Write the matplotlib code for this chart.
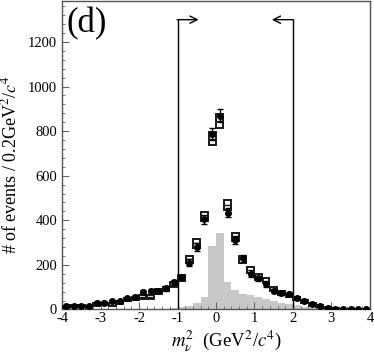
import numpy as np
import matplotlib
matplotlib.use("Agg")
import matplotlib.pyplot as plt
from matplotlib.ticker import MultipleLocator

plt.rcParams['font.family'] = ['Liberation Serif', 'DejaVu Serif']
plt.rcParams['mathtext.fontset'] = 'stix'

# bin centres of the 0.2 GeV^2/c^4 bins
bin_centers = [-3.9, -3.7, -3.5, -3.3, -3.1, -2.9, -2.7, -2.5, -2.3, -2.1,
               -1.9, -1.7, -1.5, -1.3, -1.1, -0.9, -0.7, -0.5, -0.3, -0.1,
               0.1, 0.3, 0.5, 0.7, 0.9, 1.1, 1.3, 1.5, 1.7, 1.9,
               2.1, 2.3, 2.5, 2.7, 2.9, 3.1, 3.3, 3.5, 3.7, 3.9]

# data points (filled circles)
data = [15, 15, 17, 15, 30, 30, 38, 38, 50, 57,
        77, 83, 83, 95, 122, 144, 210, 281, 405, 788,
        870, 435, 311, 229, 157, 140, 113, 84, 72, 69,
        50, 40, 25, 15, 5, 3, 2, 1, 0, 0]
data_err = [4, 4, 4, 4, 6, 6, 6, 6, 7, 8,
            9, 9, 9, 10, 11, 12, 15, 17, 20, 28,
            30, 21, 18, 15, 13, 12, 11, 9, 9, 8,
            7, 6, 5, 4, 2, 2, 1, 1, 0, 0]

# MC expectation (open boxes), value and half-height
mc = [12, 14, 15, 10, 22, 25, 22, 33, 45, 50,
      58, 57, 80, 92, 112, 143, 225, 297, 417, 766,
      845, 468, 326, 226, 177, 144, 129, 93, 72, 62,
      50, 35, 22, 15, 7, 3, 2, 1, 0.5, 0]
mc_err = [5, 5, 5, 5, 6, 6, 6, 7, 8, 8,
          9, 9, 10, 11, 12, 13, 16, 19, 22, 30,
          30, 22, 19, 16, 14, 13, 12, 10, 9, 8,
          7, 6, 5, 4, 3, 2, 1, 1, 1, 0]

# grey histogram (signal component)
sig = [0, 0, 0, 0, 0, 0, 0, 0, 0, 1,
       2, 2, 3, 4, 6, 10, 17, 29, 57, 284,
       345, 124, 87, 70, 63, 55, 45, 38, 30, 25,
       18, 12, 8, 5, 3, 2, 1, 0, 0, 0]

xticks = [-4, -3, -2, -1, 0, 1, 2, 3, 4]
xticklabels = ['-4', '-3', '-2', '-1', '0', '1', '2', '3', '4']
yticks = [0, 200, 400, 600, 800, 1000, 1200]

bin_edges = np.arange(-4, 4.001, 0.2)

fig = plt.figure(figsize=(3.74, 3.58), dpi=100)
ax = fig.add_axes([0.166, 0.1355, 0.823, 0.8625])

ax.hist(bin_centers, bins=bin_edges, weights=sig, histtype='stepfilled',
        color='#c8c8c8', linewidth=0)

x = np.array(bin_centers)
mc = np.array(mc)
mc_err = np.array(mc_err)
w = 0.18
ax.bar(x, 2 * mc_err, width=w, bottom=mc - mc_err, fill=False,
       edgecolor='#1a1a1a', linewidth=1.4, zorder=3)
ax.hlines(mc, x - w / 2, x + w / 2, color='#1a1a1a', linewidth=1.0, zorder=3)

ax.errorbar(x, data, yerr=data_err, fmt='o', color='black', markersize=4,
            capsize=2.5, elinewidth=1, capthick=1, zorder=4)

# signal region cut arrows
ax.plot([-1, -1], [0, 1300], color='black', linewidth=1)
ax.plot([2, 2], [0, 1300], color='black', linewidth=1)
ax.annotate('', xy=(-0.45, 1300), xytext=(-1.01, 1300),
            arrowprops=dict(arrowstyle='->', lw=1, color='black',
                            mutation_scale=13, shrinkA=0, shrinkB=0))
ax.annotate('', xy=(1.45, 1300), xytext=(2.01, 1300),
            arrowprops=dict(arrowstyle='->', lw=1, color='black',
                            mutation_scale=13, shrinkA=0, shrinkB=0))

ax.set_xlim(-4, 4)
ax.set_ylim(0, 1385)
ax.set_xticks(xticks)
ax.set_xticklabels(xticklabels)
ax.set_yticks(yticks)
ax.yaxis.set_minor_locator(MultipleLocator(40))
ax.xaxis.set_minor_locator(MultipleLocator(0.2))
ax.tick_params(which='both', direction='in', labelsize=10.5, top=False,
               right=False, color='#666666')
ax.tick_params(which='major', length=5)
ax.tick_params(which='minor', length=2.5)
ax.tick_params(axis='x', pad=2)
for s in ax.spines.values():
    s.set_color('#555555')
    s.set_linewidth(1)

ax.set_xlabel(r'$m_{\nu}^2$  (GeV$^2$/$c^4$)', fontsize=13.5, labelpad=1)
ax.xaxis.set_label_coords(0.535, -0.06, transform=ax.transAxes)
ax.xaxis.label.set_va('top')
ax.set_ylabel(r'# of events / 0.2GeV$^2$/$c^4$', fontsize=13, labelpad=5)
ax.yaxis.set_label_coords(-0.135, 0.47)

ax.text(0.015, 0.98, '(d)', transform=ax.transAxes, fontsize=25,
        va='top', ha='left')

fig.savefig('out.png', dpi=100)
